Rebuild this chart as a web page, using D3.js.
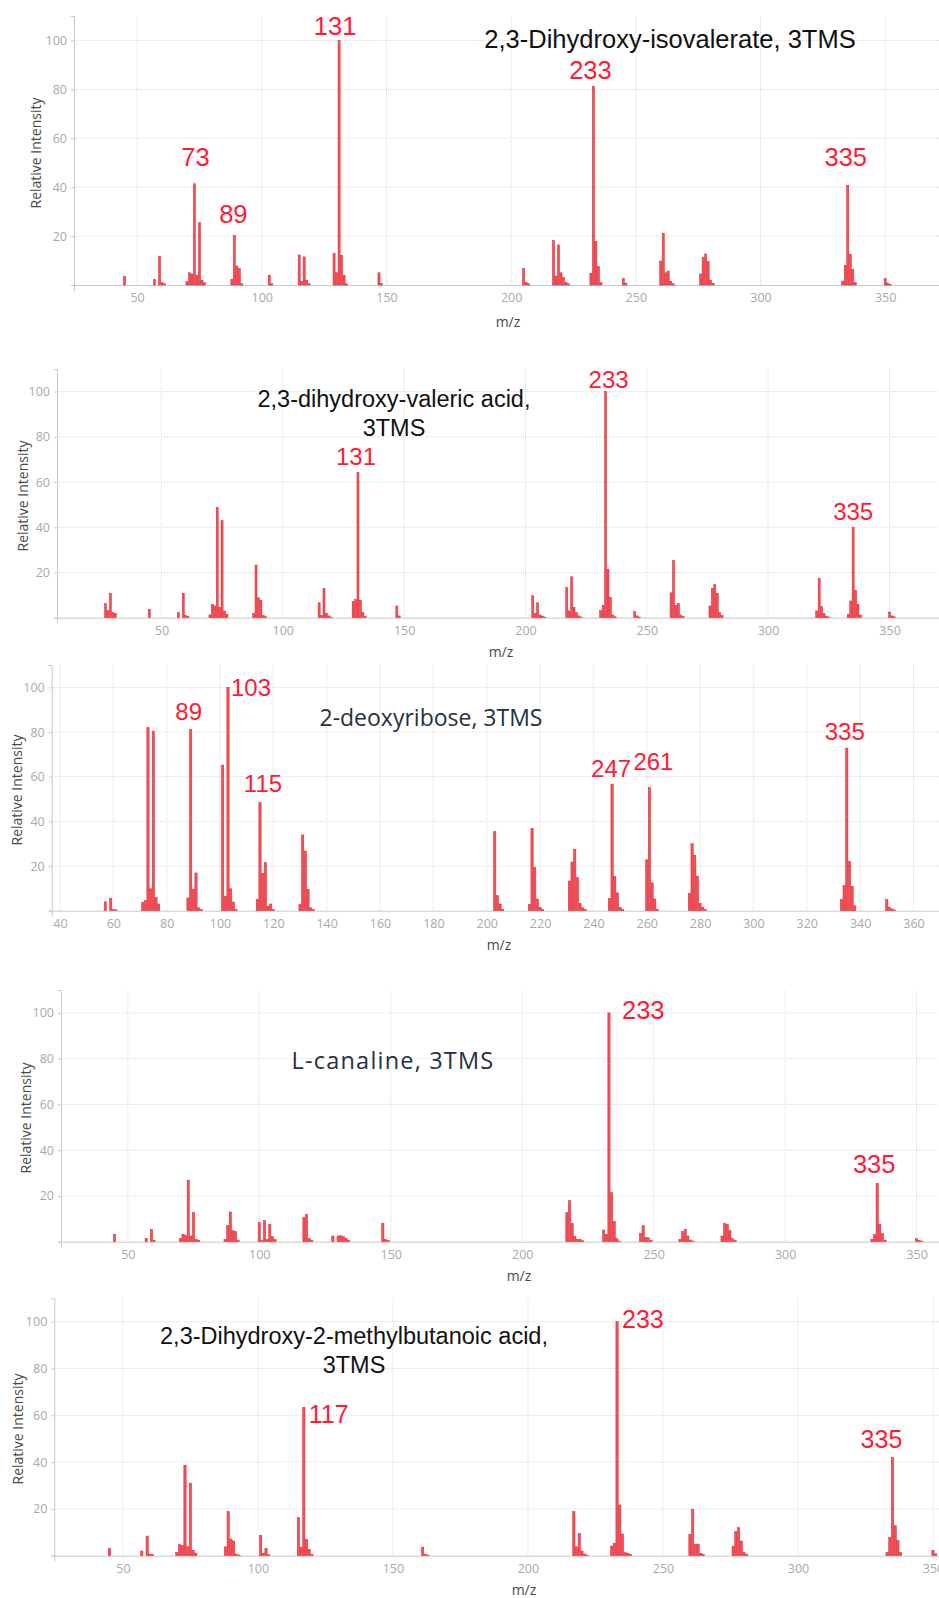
<!DOCTYPE html>
<html lang="en">
<head>
<meta charset="utf-8">
<title>Mass spectra, 3TMS derivatives</title>
<script src="https://cdn.jsdelivr.net/npm/d3@7"></script>
<style type="text/css">
body {
    margin: 0;
    background: #fff;
}
.tick text {
    fill: #a9a9a9;
    font-family: "Open Sans", sans-serif;
    font-size: 12.5px;
}
.axis path, .axis line {
    stroke: #c8c8c8;
}
.grid line {
    stroke: #d9d9d9;
    stroke-dasharray: 1,1;
}
.axis-title {
    fill: #4a4a4a;
    font-family: "Open Sans", sans-serif;
    font-size: 14px;
}
.peak-label {
    fill: #ff1a36;
    font-family: "Liberation Sans", Arial, sans-serif;
}
</style>
</head>
<body>
<div id="spectra"></div>
<script>
// peaks: [m/z, relative intensity]
var isovaleratePeaks = [
  [45,3.5],[57,2.3],[59,11.7],[60,1],[61,0.5],
  [70,1.4],[71,5],[72,4.5],[73,41.4],[74,4],[75,25.5],[76,2],[77,1],
  [88,2.3],[89,20.2],[90,7.8],[91,6.8],[92,0.5],
  [103,4],[104,0.5],
  [115,12.3],[116,1.5],[117,11.5],[118,2],[119,0.5],
  [129,13],[130,5],[131,100],[132,12.2],[133,4],[134,0.5],
  [147,5],[148,0.6],
  [205,6.8],[206,1],[207,0.5],
  [217,18.2],[218,3.7],[219,16.4],[220,5],[221,3.1],[222,1],[223,0.5],
  [232,4.8],[233,81.3],[234,17.8],[235,7.5],[236,1],
  [245,2.6],[246,0.8],
  [260,9.8],[261,21.2],[262,5],[263,5.7],[264,1.5],[265,0.5],
  [276,4.5],[277,11.2],[278,12.7],[279,9.6],[280,2],[281,0.7],
  [333,1.6],[334,8],[335,40.8],[336,12.6],[337,6.4],[338,1],
  [350,2.6],[351,0.8],[352,0.3]
];
var valericPeaks = [
  [27,6.3],[28,3.1],[29,10.8],[30,2.2],[31,1.9],
  [45,3.7],
  [57,2.2],[59,10.8],[60,1],[61,0.5],
  [70,1.2],[71,5.9],[72,5.2],[73,48.8],[74,4.6],[75,42.9],[76,3],[77,1.5],
  [88,1.9],[89,23.3],[90,8.8],[91,7.7],[92,1],[93,0.4],
  [115,6.6],[116,1],[117,13],[118,2],[119,0.8],[120,0.3],
  [129,7.1],[130,8.1],[131,64.2],[132,7.7],[133,2.4],[134,0.5],
  [147,5.2],[148,0.8],
  [203,9.7],[204,2],[205,6.6],[206,1.2],[207,0.7],[208,0.3],
  [217,13.4],[218,3],[219,18.1],[220,4.6],[221,2.2],[222,0.8],[223,0.3],
  [231,3.1],[232,5.5],[233,100],[234,21.5],[235,9],[236,1.2],[237,0.4],
  [245,2.7],[246,0.8],[247,0.3],
  [260,11],[261,25.2],[262,5.5],[263,6.3],[264,1.2],[265,0.5],
  [276,5.2],[277,13],[278,14.7],[279,10.8],[280,2.2],[281,0.9],
  [320,3],[321,17.4],[322,4.9],[323,1.9],[324,0.7],[325,0.3],
  [333,1.6],[334,7.4],[335,40],[336,12.2],[337,5.9],[338,1.2],
  [350,2.5],[351,0.8],[352,0.4]
];
var deoxyribosePeaks = [
  [57,4],[59,5.5],[60,0.6],[61,0.4],
  [71,3.6],[72,4.5],[73,82],[74,9.8],[75,80.4],[76,6],[77,3],
  [88,5.7],[89,81.2],[90,9.7],[91,16.9],[92,1.3],[93,0.5],
  [101,65.2],[102,6.3],[103,100],[104,9.8],[105,3.9],[106,0.5],
  [114,5],[115,48.4],[116,16.6],[117,21.5],[118,2],[119,3],[120,0.5],
  [130,2.8],[131,33.9],[132,26.7],[133,9.6],[134,1.3],[135,0.5],
  [203,35.4],[204,6.7],[205,3],[206,0.6],
  [216,2.8],[217,36.9],[218,19.4],[219,5.2],[220,1.5],[221,0.5],
  [231,13.3],[232,21.8],[233,27.5],[234,14.8],[235,3.3],[236,1.3],[237,0.5],
  [246,5.5],[247,56.7],[248,15.2],[249,8],[250,1.5],[251,0.6],
  [260,22.8],[261,55.1],[262,12.5],[263,5.2],[264,0.7],
  [276,7.8],[277,30],[278,24.8],[279,15.5],[280,3.3],[281,1.5],[282,0.5],
  [333,5],[334,11.3],[335,72.8],[336,22.1],[337,10.9],[338,2.2],
  [350,5],[351,1.6],[352,0.8],[353,0.3]
];
var canalinePeaks = [
  [45,3.2],
  [57,1.5],[59,5.4],[60,0.5],
  [70,1.5],[71,3.3],[72,2.8],[73,26.9],[74,2.5],[75,12.8],[76,1],[77,0.5],
  [87,1],[88,7],[89,13],[90,4.8],[91,4.4],[92,0.5],
  [100,8.4],[101,0.5],[102,9.2],[103,1],[104,7.6],[105,2.2],[106,1],
  [117,10.5],[118,11.9],[119,1.3],[120,0.5],
  [128,2.5],[130,2.5],[131,2.6],[132,2.2],[133,1.5],[134,0.5],
  [147,8],[148,1],[149,0.5],
  [217,12.7],[218,17.9],[219,8],[220,2.3],[221,1],[222,1],[223,0.4],
  [231,5.1],[232,3.2],[233,100],[234,21.4],[235,8.9],[236,1.3],[237,0.3],
  [245,3.6],[246,7],[247,1.9],[248,1.7],[249,0.6],
  [260,1],[261,4.4],[262,5.4],[263,2.5],[264,0.7],[265,0.3],
  [276,2.5],[277,8],[278,7.6],[279,4.8],[280,1.3],[281,0.5],
  [333,1],[334,3.2],[335,25.5],[336,7.6],[337,3.6],[338,0.7],
  [350,1.3],[351,0.6],[352,0.3]
];
var methylbutanoicPeaks = [
  [45,3.1],
  [57,2],[59,8.4],[60,0.7],[61,0.5],
  [70,1.4],[71,4.8],[72,4.3],[73,38.7],[74,3.8],[75,31],[76,2.3],[77,1.1],
  [88,3.8],[89,18.8],[90,7.1],[91,6.3],[92,0.7],[93,0.3],
  [101,8.7],[102,1],[103,3.1],[104,0.4],
  [115,16.4],[116,3.7],[117,63.4],[118,7],[119,2.7],[120,0.6],
  [161,3.6],[162,0.6],[163,0.3],
  [217,18.8],[218,3.8],[219,9.5],[220,2],[221,0.7],[222,0.3],
  [231,4.1],[232,5.3],[233,100],[234,21.7],[235,9.3],[236,1.3],[237,1],[238,0.5],
  [260,9.1],[261,19.8],[262,4.8],[263,5],[264,1],[265,0.5],
  [276,4.1],[277,10.3],[278,12],[279,6.3],[280,1.4],[281,0.6],
  [333,1.4],[334,7.8],[335,42],[336,12.8],[337,6.4],[338,1.3],
  [350,2.3],[351,0.8]
];

// labelled peaks (m/z)
var isovalerateLabels = [73, 89, 131, 233, 335];
var valericLabels = [131, 233, 335];
var deoxyriboseLabels = [89, 103, 115, 247, 261, 335];
var canalineLabels = [233, 335];
var methylbutanoicLabels = [117, 233, 335];

// tick values
var yTicks = [0, 20, 40, 60, 80, 100];
var xTicksBy50 = [50, 100, 150, 200, 250, 300, 350];
var xTicksBy20 = [40, 60, 80, 100, 120, 140, 160, 180, 200, 220, 240, 260, 280, 300, 320, 340, 360];

// where each spectrum sits on the page
var panels = [
  { peaks: isovaleratePeaks, labels: isovalerateLabels, xTicks: xTicksBy50,
    title: ["2,3-Dihydroxy-isovalerate, 3TMS"], titleX: 670, titleY: 48, titleSize: 25.5, titleFont: "sans",
    left: 74, top: 16, base: 285, mz: [24.7, 376.0], mzLabel: [508, 327], yLabel: [35, 153],
    labelSize: 25.5,
    nudge: { 73: [1, -18], 89: [-1, -13], 131: [-4, -5], 233: [-3, -7], 335: [-2, -19] } },
  { peaks: valericPeaks, labels: valericLabels, xTicks: xTicksBy50,
    title: ["2,3-dihydroxy-valeric acid,", "3TMS"], titleX: 394, titleY: 407, titleSize: 23.5, titleFont: "sans",
    left: 57, top: 369, base: 617.7, mz: [7.0, 374.9], mzLabel: [501, 657], yLabel: [22, 496],
    labelSize: 24,
    nudge: { 131: [-2, -8], 233: [3, -4], 335: [0, -7] } },
  { peaks: deoxyribosePeaks, labels: deoxyriboseLabels, xTicks: xTicksBy20,
    title: ["2-deoxyribose, 3TMS"], titleX: 431, titleY: 726, titleSize: 23, titleFont: "humanist",
    left: 51.7, top: 665, base: 910.7, mz: [36.9, 373.7], mzLabel: [499, 950], yLabel: [16, 790],
    labelSize: 24,
    nudge: { 89: [-2, -9], 103: [3, 9, "start"], 115: [3, -11], 247: [-1, -7], 261: [4, -18], 335: [-2, -8] } },
  { peaks: canalinePeaks, labels: canalineLabels, xTicks: xTicksBy50,
    title: ["L-canaline, 3TMS"], titleX: 393, titleY: 1069, titleSize: 23.5, titleFont: "humanist", titleSpacing: 1.2,
    left: 61, top: 990, base: 1241.7, mz: [24.6, 362.7], mzLabel: [519, 1281], yLabel: [25, 1118],
    labelSize: 25.5,
    nudge: { 233: [13, 6, "start"], 335: [-3, -10] } },
  { peaks: methylbutanoicPeaks, labels: methylbutanoicLabels, xTicks: xTicksBy50,
    title: ["2,3-Dihydroxy-2-methylbutanoic acid,", "3TMS"], titleX: 354, titleY: 1344, titleSize: 23.5, titleFont: "sans",
    left: 54.3, top: 1298.3, base: 1555.7, mz: [24.6, 356.3], mzLabel: [524, 1595], yLabel: [17, 1429],
    labelSize: 25,
    nudge: { 117: [5, 16, "start"], 233: [5, 6, "start"], 335: [-11, -9] } }
];

var width = 939, height = 1598, rightEdge = 950;

var svg = d3.select("#spectra")
  .append("svg")
    .attr("width", width)
    .attr("height", height)
    .style("display", "block");

panels.forEach(function(p) {
  var g = svg.append("g");

  var x = d3.scaleLinear().domain(p.mz).range([p.left, rightEdge]);
  var y = d3.scaleLinear().domain([0, 110]).range([p.base, p.top]);

  // dotted grid
  var grid = g.append("g").attr("class", "grid");
  grid.selectAll(".v")
    .data(p.xTicks)
    .enter()
    .append("line")
      .attr("x1", function(d) { return x(d); })
      .attr("x2", function(d) { return x(d); })
      .attr("y1", y(110))
      .attr("y2", y(0));
  grid.selectAll(".h")
    .data(yTicks.slice(1))
    .enter()
    .append("line")
      .attr("x1", p.left)
      .attr("x2", rightEdge)
      .attr("y1", function(d) { return y(d); })
      .attr("y2", function(d) { return y(d); });

  // axes
  g.append("g")
    .attr("class", "axis")
    .attr("transform", "translate(0," + y(0) + ")")
    .call(d3.axisBottom(x).tickValues(p.xTicks).tickSizeInner(0).tickSizeOuter(6).tickPadding(8))
    .call(function(a) { a.selectAll(".tick text").attr("font-family", null).attr("font-size", null); });

  g.append("g")
    .attr("class", "axis")
    .attr("transform", "translate(" + p.left + ",0)")
    .call(d3.axisLeft(y).tickValues(yTicks).tickSize(3).tickPadding(4)
      .tickFormat(function(d) { return d === 0 ? "" : d; }))
    .call(function(a) { a.selectAll(".tick text").attr("font-family", null).attr("font-size", null); });

  // peaks
  var step = x(1) - x(0);
  g.append("g")
    .selectAll("rect")
    .data(p.peaks)
    .enter()
    .append("rect")
      .attr("x", function(d) { return x(d[0]) - step / 2 + 0.2; })
      .attr("y", function(d) { return y(d[1]); })
      .attr("width", step - 0.4)
      .attr("height", function(d) { return y(0) - y(d[1]); })
      .attr("fill", "#f0525a")
      .attr("stroke", "#e3222e")
      .attr("stroke-width", 0.5);

  // peak labels
  var lookup = new Map(p.peaks.map(function(d) { return [d[0], d[1]]; }));
  g.selectAll(".peak-label")
    .data(p.labels)
    .enter()
    .append("text")
      .attr("class", "peak-label")
      .attr("font-size", p.labelSize)
      .attr("text-anchor", function(d) { return p.nudge[d][2] || "middle"; })
      .attr("x", function(d) { return x(d) + p.nudge[d][0]; })
      .attr("y", function(d) { return y(lookup.get(d)) + p.nudge[d][1]; })
      .text(function(d) { return d; });

  // axis titles
  g.append("text")
    .attr("class", "axis-title")
    .attr("text-anchor", "middle")
    .attr("x", p.mzLabel[0])
    .attr("y", p.mzLabel[1])
    .text("m/z");
  g.append("text")
    .attr("class", "axis-title")
    .attr("text-anchor", "middle")
    .attr("dominant-baseline", "central")
    .attr("transform", "translate(" + p.yLabel[0] + "," + p.yLabel[1] + ") rotate(-90)")
    .text("Relative Intensity");

  // compound name
  var t = g.append("text")
    .attr("text-anchor", "middle")
    .attr("font-size", p.titleSize)
    .attr("letter-spacing", p.titleSpacing || 0)
    .attr("font-family", p.titleFont === "humanist" ? "'Open Sans', sans-serif" : "'Liberation Sans', Arial, sans-serif")
    .attr("fill", p.titleFont === "humanist" ? "#27303f" : "#111");
  t.selectAll("tspan")
    .data(p.title)
    .enter()
    .append("tspan")
      .attr("x", p.titleX)
      .attr("y", function(d, i) { return p.titleY + i * 29; })
      .text(function(d) { return d; });
});
</script>
</body>
</html>
